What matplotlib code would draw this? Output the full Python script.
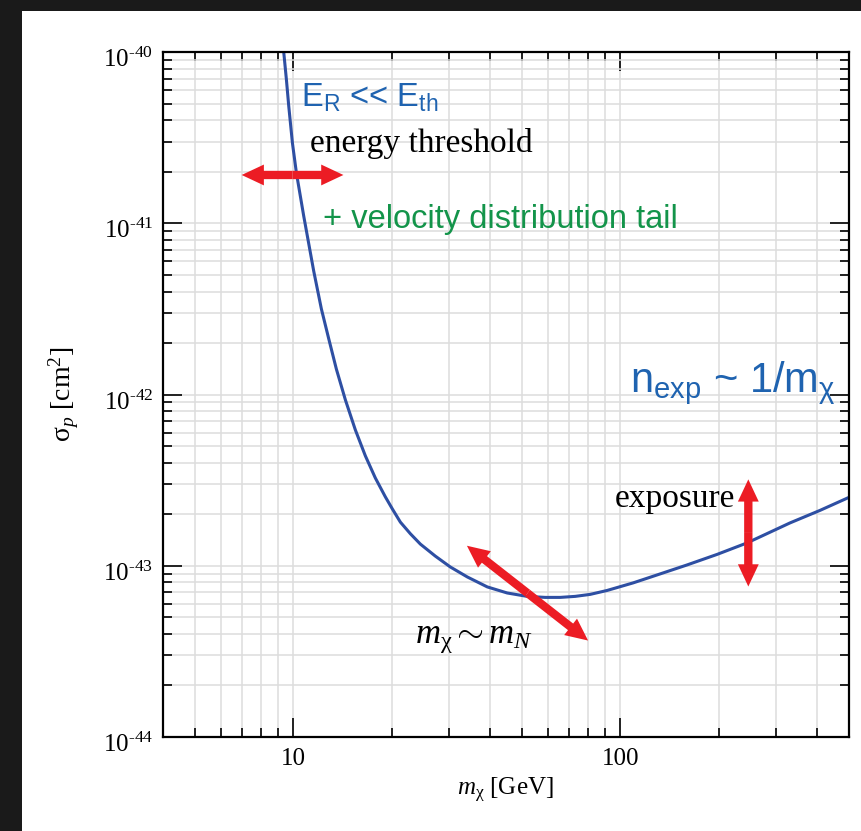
import matplotlib
matplotlib.use("Agg")
from matplotlib import pyplot as plt
from matplotlib.patches import Rectangle, FancyArrowPatch
from matplotlib.transforms import ScaledTranslation
from matplotlib.ticker import LogLocator, FixedLocator, FixedFormatter, NullFormatter

plt.rcParams["font.family"] = "Liberation Serif"
plt.rcParams["mathtext.fontset"] = "custom"
plt.rcParams["mathtext.rm"] = "Liberation Serif"
plt.rcParams["mathtext.it"] = "Liberation Serif:italic"
plt.rcParams["mathtext.bf"] = "Liberation Serif:bold"
plt.rcParams["mathtext.sf"] = "Liberation Sans"

# limit curve (GeV, cm^2)
mass = [9.361, 9.540, 9.695, 9.951, 10.235, 10.774, 11.558, 12.20, 12.85, 13.56,
        14.45, 15.50, 16.63, 17.84, 19.14, 20.11, 21.28, 22.83, 24.49, 27.21,
        30.24, 34.09, 39.24, 45.15, 51.97, 59.01, 65.57, 72.87, 80.98, 91.25,
        109.6, 129.8, 160.2, 197.9, 244.4, 330.7, 408.3, 504.3]
sigma = [1.0e-40, 6.89e-41, 4.86e-41, 2.95e-41, 1.97e-41, 1.106e-41, 5.28e-42, 3.17e-42,
         2.12e-42, 1.41e-42, 9.31e-43, 6.22e-43, 4.39e-43, 3.26e-43, 2.53e-43, 2.15e-43,
         1.80e-43, 1.54e-43, 1.34e-43, 1.14e-43, 9.85e-44, 8.61e-44, 7.53e-44, 6.94e-44,
         6.63e-44, 6.54e-44, 6.54e-44, 6.63e-44, 6.81e-44, 7.18e-44, 7.95e-44, 8.85e-44,
         1.012e-43, 1.166e-43, 1.361e-43, 1.781e-43, 2.107e-43, 2.526e-43]

x_ticks = [10, 100]
x_labels = ["10", "100"]
y_ticks = [1e-44, 1e-43, 1e-42, 1e-41, 1e-40]
y_exps = ["44", "43", "42", "41", "40"]
y_labels = ["$10^{\\mathrm{\u2010" + e + "}}$" for e in y_exps]

# double arrows: (start, end) in data units
arrow_thr = [(6.96, 1.92e-41), (14.25, 1.92e-41)]
arrow_mn = [(34.0, 1.31e-43), (79.8, 3.66e-44)]
arrow_exp = [(246.6, 3.2e-43), (246.6, 7.57e-44)]

RED = "#ec1c24"
BLUE = "#1f63b0"
GREEN = "#13944a"
LINE = "#2e4fa3"

fig = plt.figure(figsize=(8.62, 8.31), dpi=100)
fig.patch.set_facecolor("#1a1a1a")
fig.patches.append(Rectangle((22 / 862, 0), 1, 1 - 11 / 831, transform=fig.transFigure,
                             facecolor="white", edgecolor="none", zorder=-10))

ax = fig.add_axes([163 / 862, 1 - 737 / 831, 685.7 / 862, 684.7 / 831])
ax.set_zorder(5)
ax.set_xscale("log")
ax.set_yscale("log")
ax.set_xlim(4, 500)
ax.set_ylim(1e-44, 1e-40)

ax.xaxis.set_major_locator(FixedLocator(x_ticks))
ax.xaxis.set_major_formatter(FixedFormatter(x_labels))
ax.xaxis.set_minor_locator(LogLocator(base=10, subs=range(2, 10), numticks=20))
ax.xaxis.set_minor_formatter(NullFormatter())
ax.yaxis.set_major_locator(FixedLocator(y_ticks))
ax.yaxis.set_major_formatter(FixedFormatter(y_labels))
ax.yaxis.set_minor_locator(LogLocator(base=10, subs=range(2, 10), numticks=20))
ax.yaxis.set_minor_formatter(NullFormatter())

ax.grid(which="both", color="#dddddd", lw=1.1)
ax.set_axisbelow(True)
ax.tick_params(which="both", direction="in", top=True, right=True, color="black", width=1.2)
ax.tick_params(which="major", length=14, labelsize=18)
ax.tick_params(axis="x", which="major", pad=8)
ax.tick_params(axis="y", which="major", pad=7)
ax.tick_params(which="minor", length=6.5)
for s in ax.spines.values():
    s.set_linewidth(1.6)

ax.plot(mass, sigma, color=LINE, lw=2.2, solid_capstyle="round")

# each double arrow = two single arrows from the (log) midpoint
for a in (arrow_thr, arrow_mn, arrow_exp):
    mid = ((a[0][0] * a[1][0]) ** 0.5, (a[0][1] * a[1][1]) ** 0.5)
    for end in a:
        ax.add_patch(FancyArrowPatch(mid, end, transform=ax.transData,
                                     arrowstyle="simple,head_length=16,head_width=15,tail_width=6",
                                     mutation_scale=1, color=RED, lw=0,
                                     shrinkA=0, shrinkB=0, zorder=4))

ax.set_xlabel(r"$m_{\mathrm{\chi}}$ [GeV]", fontsize=18, labelpad=4)
ax.set_ylabel(r"$\mathrm{\sigma}_{p}$ [cm$^{2}$]", fontsize=20, labelpad=16)

def ax_pos(px, py):
    return ((px - 163) / 685.7, (737 - py) / 684.7)

ax.text(*ax_pos(300.7, 106.7), r"$\mathsf{E_R}$ << $\mathsf{E_{th}}$", transform=ax.transAxes,
        family="Liberation Sans", fontsize=23.5, color=BLUE, va="baseline")
ax.text(*ax_pos(310, 151.7), "energy threshold", transform=ax.transAxes,
        fontsize=24, color="black", va="baseline")
ax.text(*ax_pos(323, 228), "+ velocity distribution tail", transform=ax.transAxes,
        family="Liberation Sans", fontsize=23.5, color=GREEN, va="baseline")
ax.text(*ax_pos(630, 391.7), r"$\mathsf{n_{exp}}$ ~ 1/$\mathsf{m_{\chi}}$", transform=ax.transAxes,
        family="Liberation Sans", fontsize=30, color=BLUE, va="baseline")
ax.text(*ax_pos(615, 506.7), "exposure", transform=ax.transAxes,
        fontsize=24, color="black", va="baseline")
ax.text(*ax_pos(415, 643), r"$m_{\mathrm{\chi}} \sim m_{N}$", transform=ax.transAxes,
        fontsize=25, color="black", va="baseline")

# y tick labels: baseline of "10" sits ~15 px below the tick
shift = ScaledTranslation(0, -15.0 / 100, fig.dpi_scale_trans)
for lab in ax.get_yticklabels():
    lab.set_va("baseline")
    lab.set_transform(lab.get_transform() + shift)

fig.savefig("out.png", dpi=100, facecolor=fig.get_facecolor())
